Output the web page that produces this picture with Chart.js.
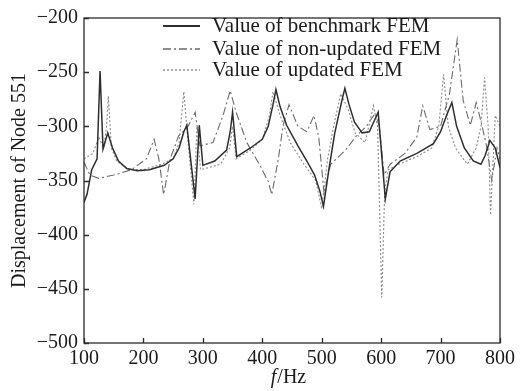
<!DOCTYPE html>
<html>
<head>
<meta charset="utf-8">
<title>Displacement of Node 551</title>
<script src="https://cdn.jsdelivr.net/npm/chart.js@4.4.1/dist/chart.umd.min.js"></script>
<style>
  html, body { margin: 0; padding: 0; background: #fff; }
  canvas { display: block; }
</style>
</head>
<body>
<canvas id="femChart" width="526" height="391"></canvas>
<script>
// Frequency response of node 551: benchmark vs. non-updated vs. updated FEM.

const xTicks = [100, 200, 300, 400, 500, 600, 700, 800];
const yTicks = [-200, -250, -300, -350, -400, -450, -500];

const benchmarkFreq = [100, 105, 113, 122, 127, 132, 140, 148, 158, 172, 190, 210, 235, 250, 260, 268, 273, 287, 294, 300, 320, 340, 346, 350, 357, 380, 400, 410, 418, 423, 430, 441, 460, 475, 488, 497, 503, 512, 522, 534, 539, 546, 555, 568, 580, 590, 595, 607, 615, 632, 660, 688, 700, 710, 719, 727, 740, 755, 768, 775, 783, 792, 800];
const benchmarkValues = [-370, -363, -340, -330, -249, -321, -306, -320, -332, -339, -341, -340, -336, -330, -320, -305, -299, -367, -299, -336, -332, -322, -305, -287, -328, -320, -312, -300, -280, -266, -282, -299, -318, -332, -345, -360, -374, -340, -306, -276, -265, -280, -296, -306, -305, -293, -287, -367, -342, -332, -325, -316, -305, -290, -278, -300, -320, -332, -335, -327, -313, -320, -338];

const nonUpdatedFreq = [100, 110, 125, 150, 180, 205, 218, 226, 234, 245, 259, 275, 287, 295, 317, 334, 346, 356, 374, 395, 410, 416, 427, 435, 445, 460, 475, 487, 495, 504, 515, 540, 558, 575, 590, 597, 605, 615, 640, 660, 670, 682, 700, 715, 728, 738, 750, 760, 770, 778, 786, 795, 800];
const nonUpdatedValues = [-333, -345, -348, -345, -340, -330, -312, -330, -363, -330, -309, -300, -287, -318, -315, -290, -267, -287, -315, -335, -351, -363, -330, -299, -280, -300, -305, -290, -310, -362, -335, -322, -309, -300, -288, -300, -345, -335, -325, -310, -281, -303, -300, -270, -220, -276, -299, -278, -300, -320, -350, -320, -330];

const updatedFreq = [100, 115, 125, 133, 138, 141, 146, 155, 175, 200, 230, 250, 260, 268, 276, 285, 290, 296, 310, 330, 345, 350, 356, 380, 400, 412, 418, 430, 447, 470, 490, 500, 510, 520, 532, 545, 556, 573, 587, 594, 601, 606, 612, 630, 660, 685, 697, 705, 713, 725, 745, 760, 768, 774, 780, 784, 792, 800];
const updatedValues = [-330, -325, -310, -320, -300, -272, -320, -332, -340, -340, -335, -330, -315, -268, -320, -372, -300, -340, -338, -335, -320, -300, -330, -322, -312, -290, -268, -290, -315, -335, -350, -376, -330, -300, -270, -285, -306, -315, -281, -300, -458, -360, -340, -335, -328, -320, -300, -252, -300, -320, -335, -320, -300, -255, -300, -382, -290, -300];

const seriesLabels = ['Value of benchmark FEM', 'Value of non-updated FEM', 'Value of updated FEM'];

const SERIF = '"Liberation Serif", "DejaVu Serif", serif';
const INK = '#2b2b2b';

function toPoints(freqs, values) {
    return freqs.map((f, i) => ({ x: f, y: values[i] }));
}

function formatMinus(value) {
    return String(value).replace('-', '\u2212');
}

const lineStyles = [
    { color: '#2e2e2e', width: 1.5, dash: [] },
    { color: '#6a6a6a', width: 1.1, dash: [8, 3, 2, 3] },
    { color: '#8a8a8a', width: 1.1, dash: [2, 2] }
];

// frame, inward tick marks, legend and the x title are drawn by hand
const decorPlugin = {
    id: 'decor',
    afterDraw(chart) {
        const { ctx, chartArea: area, scales } = chart;
        ctx.save();
        ctx.strokeStyle = INK;
        ctx.lineWidth = 1.3;
        ctx.setLineDash([]);
        ctx.strokeRect(area.left, area.top, area.right - area.left, area.bottom - area.top);

        ctx.beginPath();
        xTicks.forEach((t) => {
            const px = Math.round(scales.x.getPixelForValue(t)) + 0.5;
            ctx.moveTo(px, area.bottom);
            ctx.lineTo(px, area.bottom - 5);
        });
        yTicks.forEach((t) => {
            const py = Math.round(scales.y.getPixelForValue(t)) + 0.5;
            ctx.moveTo(area.left, py);
            ctx.lineTo(area.left + 5, py);
        });
        ctx.stroke();

        // legend
        const rows = [26, 49, 70];
        ctx.font = '21px ' + SERIF;
        ctx.textBaseline = 'middle';
        ctx.fillStyle = '#1a1a1a';
        seriesLabels.forEach((label, i) => {
            const style = lineStyles[i];
            ctx.beginPath();
            ctx.strokeStyle = style.color;
            ctx.lineWidth = style.width + 0.3;
            ctx.setLineDash(style.dash);
            ctx.moveTo(163, rows[i]);
            ctx.lineTo(200, rows[i]);
            ctx.stroke();
            ctx.fillText(label, 212, rows[i]);
        });

        // x axis title: italic f / Hz
        ctx.setLineDash([]);
        ctx.textBaseline = 'middle';
        const cx = (area.left + area.right) / 2 - 4;
        ctx.font = 'italic 20px ' + SERIF;
        const fW = ctx.measureText('f').width;
        ctx.font = '20px ' + SERIF;
        const restW = ctx.measureText('/Hz').width;
        const startX = cx - (fW + restW) / 2;
        ctx.font = 'italic 20px ' + SERIF;
        ctx.fillText('f', startX, 378);
        ctx.font = '20px ' + SERIF;
        ctx.fillText('/Hz', startX + fW + 1, 378);
        ctx.restore();
    }
};

const datasets = [
    toPoints(benchmarkFreq, benchmarkValues),
    toPoints(nonUpdatedFreq, nonUpdatedValues),
    toPoints(updatedFreq, updatedValues)
].map((data, i) => ({
    label: seriesLabels[i],
    data,
    borderColor: lineStyles[i].color,
    borderWidth: lineStyles[i].width,
    borderDash: lineStyles[i].dash,
    pointRadius: 0,
    tension: 0,
    fill: false
}));

// draw benchmark on top
datasets[0].order = 0;
datasets[1].order = 2;
datasets[2].order = 1;

new Chart(document.getElementById('femChart'), {
    type: 'line',
    data: { datasets },
    options: {
        responsive: false,
        animation: false,
        layout: { padding: { top: 14, right: 26, left: 0, bottom: 0 } },
        plugins: {
            legend: { display: false },
            tooltip: { enabled: false }
        },
        scales: {
            x: {
                type: 'linear',
                min: 100,
                max: 800,
                afterFit: (scale) => { scale.height = 48; },
                afterBuildTicks: (scale) => { scale.ticks = xTicks.map((v) => ({ value: v })); },
                grid: { display: false, drawTicks: false },
                border: { display: false },
                ticks: {
                    padding: 4,
                    color: '#1a1a1a',
                    font: { family: SERIF, size: 20 },
                    maxRotation: 0
                }
            },
            y: {
                type: 'linear',
                min: -500,
                max: -200,
                afterFit: (scale) => { scale.width = 84; },
                afterBuildTicks: (scale) => { scale.ticks = yTicks.map((v) => ({ value: v })); },
                grid: { display: false, drawTicks: false },
                border: { display: false },
                title: {
                    display: true,
                    text: 'Displacement of Node 551',
                    color: '#1a1a1a',
                    font: { family: SERIF, size: 20 },
                    padding: { top: 8, bottom: 0 }
                },
                ticks: {
                    padding: 6,
                    color: '#1a1a1a',
                    font: { family: SERIF, size: 20 },
                    callback: (value) => formatMinus(value)
                }
            }
        }
    },
    plugins: [decorPlugin]
});
</script>
</body>
</html>
